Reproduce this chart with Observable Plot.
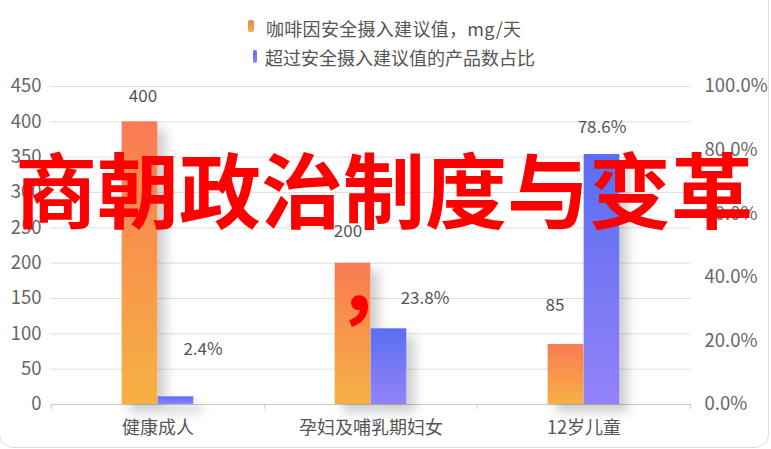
<!DOCTYPE html>
<html>
<head>
<meta charset="utf-8">
<script src="https://cdn.jsdelivr.net/npm/d3@7"></script>
<script src="https://cdn.jsdelivr.net/npm/@observablehq/plot@0.6"></script>
<style>
  body { margin: 0; background: #fff; }
  #wrap { position: relative; width: 771px; height: 449px; overflow: hidden; font-family: "Noto Sans CJK SC", "Noto Sans", sans-serif; background:#fff; }
  .leg { position: absolute; font-size: 18px; color: #555; line-height: 20px; white-space: nowrap; }
  .icon { position: absolute; border-radius: 2px; }
  #title { position: absolute; left: 15px; top: 0; font-size: 82px; font-weight: 700; color: #ff0000; white-space: nowrap; line-height: 1; letter-spacing: 0; }
  #comma { position: absolute; font-size: 82px; font-weight: 700; color: #ff0000; line-height: 1; }
  #card { position: absolute; left: -1px; top: -12px; width: 768px; height: 458px; border: 1.5px solid #dcdcdc; border-radius: 14px; pointer-events: none; }
</style>
</head>
<body>
<div id="wrap">
  <div id="chart" style="position:absolute;left:0;top:70px;"></div>
  <div class="icon" style="left:248px;top:20px;width:6px;height:12px;background:linear-gradient(#f97c52,#f6b044);"></div>
  <div class="leg" id="leg1" style="left:266px;top:18px;letter-spacing:0.3px;"></div>
  <div class="icon" style="left:253px;top:50px;width:4px;height:13px;background:linear-gradient(#5b6df2,#9183f7);"></div>
  <div class="leg" id="leg2" style="left:265px;top:47px;"></div>
  <div id="title"></div>
  <div id="comma"></div>
  <div id="card"></div>
</div>
<script>
// ---- data ----
const categories = ["健康成人", "孕妇及哺乳期妇女", "12岁儿童"];
const caffeine = [400, 200, 85];            // mg/天
const percent = [2.4, 23.8, 78.6];          // %
const leftTicks = [0, 50, 100, 150, 200, 250, 300, 350, 400, 450];
const rightTicks = [0, 20, 40, 60, 80, 100];
const seriesNames = ["咖啡因安全摄入建议值，mg/天", "超过安全摄入建议值的产品数占比"];
const overlayTitle = "商朝政治制度与变革";
const overlayComma = "，";

// ---- derived tables ----
const yMax = 450;
const pctToY = p => p / 100 * yMax;
const orangeRows = categories.map((c, i) => ({cat: c, v: caffeine[i], label: String(caffeine[i])}));
const blueRows = categories.map((c, i) => ({cat: c, v: pctToY(percent[i]), label: percent[i].toFixed(1) + "%"}));

document.getElementById("leg1").textContent = seriesNames[0];
document.getElementById("leg2").textContent = seriesNames[1];
document.getElementById("title").textContent = overlayTitle;
document.getElementById("comma").textContent = overlayComma;

const W = 771, H = 379;
const band = (W - 50 - 81) / categories.length;
const barW = 36;

const defs = () => {
  const d = d3.create("svg:defs");
  const g1 = d.append("linearGradient").attr("id", "gOrange").attr("x1", 0).attr("y1", 0).attr("x2", 0).attr("y2", 1);
  g1.append("stop").attr("offset", "0%").attr("stop-color", "#f97b53");
  g1.append("stop").attr("offset", "100%").attr("stop-color", "#f6b143");
  const g2 = d.append("linearGradient").attr("id", "gBlue").attr("x1", 0).attr("y1", 0).attr("x2", 0).attr("y2", 1);
  g2.append("stop").attr("offset", "0%").attr("stop-color", "#596ef1");
  g2.append("stop").attr("offset", "100%").attr("stop-color", "#9382f8");
  const f = d.append("filter").attr("id", "shadow").attr("x", "-20%").attr("y", "-20%").attr("width", "180%").attr("height", "140%");
  f.append("feDropShadow").attr("dx", 8).attr("dy", 8).attr("stdDeviation", 6)
    .attr("flood-color", "#000").attr("flood-opacity", 0.2);
  return d.node();
};

// per-label nudges (style only)
const orangeNudge = [[3, -25], [-5, -32], [-11, -39]];
const blueNudge = [[27, -47], [36, -30], [0, -27]];

const labelMarks = [];
orangeRows.forEach((r, i) => labelMarks.push(Plot.text([r], {x: "cat", y: "v", text: "label", dx: -barW / 2 + orangeNudge[i][0], dy: orangeNudge[i][1], fill: "#555", fontSize: 17})));
blueRows.forEach((r, i) => labelMarks.push(Plot.text([r], {x: "cat", y: "v", text: "label", dx: barW / 2 + blueNudge[i][0], dy: blueNudge[i][1], fill: "#555", fontSize: 17})));

const chart = Plot.plot({
  width: W,
  height: H,
  marginTop: 16,
  marginBottom: 45,
  marginLeft: 50,
  marginRight: 81,
  style: {fontFamily: "'Noto Sans CJK SC', 'Noto Sans', sans-serif", fontSize: "18px", color: "#666", background: "transparent"},
  x: {domain: categories, padding: 0},
  y: {domain: [0, yMax]},
  marks: [
    defs,
    Plot.gridY(leftTicks, {stroke: "#e0e0e0", strokeOpacity: 1}),
    Plot.ruleY([0], {stroke: "#c8c8c8"}),
    Plot.ruleX(categories, {x: d => d, dx: -band / 2, y1: 0, y2: 0, insetBottom: -5, stroke: "#c8c8c8"}),
    Plot.ruleX(categories.slice(-1), {x: d => d, dx: band / 2, y1: 0, y2: 0, insetBottom: -5, stroke: "#c8c8c8"}),
    Plot.barY(orangeRows, {x: "cat", y: "v", fill: "url(#gOrange)", insetLeft: band / 2 - barW, insetRight: band / 2}),
    Plot.barY(blueRows, {x: "cat", y: "v", fill: "url(#gBlue)", insetLeft: band / 2, insetRight: band / 2 - barW}),
    ...labelMarks,
    Plot.axisY(leftTicks, {anchor: "left", tickSize: 0, tickPadding: 9, label: null, fill: "#666", fontSize: 18.5}),
    Plot.axisY(rightTicks.map(pctToY), {anchor: "right", tickSize: 0, tickPadding: 14, label: null, fill: "#666", fontSize: 18.5,
      tickFormat: d => (d / yMax * 100).toFixed(1) + "%"}),
    Plot.axisX({tickSize: 0, tickPadding: 17, label: null, fill: "#555"})
  ]
});
// apply shadow to bar groups
d3.select(chart).selectAll("g[aria-label='bar']").attr("filter", "url(#shadow)");
document.getElementById("chart").appendChild(chart);

// position overlay texts
document.getElementById("title").style.top = "146px";
const cm = document.getElementById("comma");
cm.style.left = "336px";
cm.style.top = "239px";
</script>
</body>
</html>
